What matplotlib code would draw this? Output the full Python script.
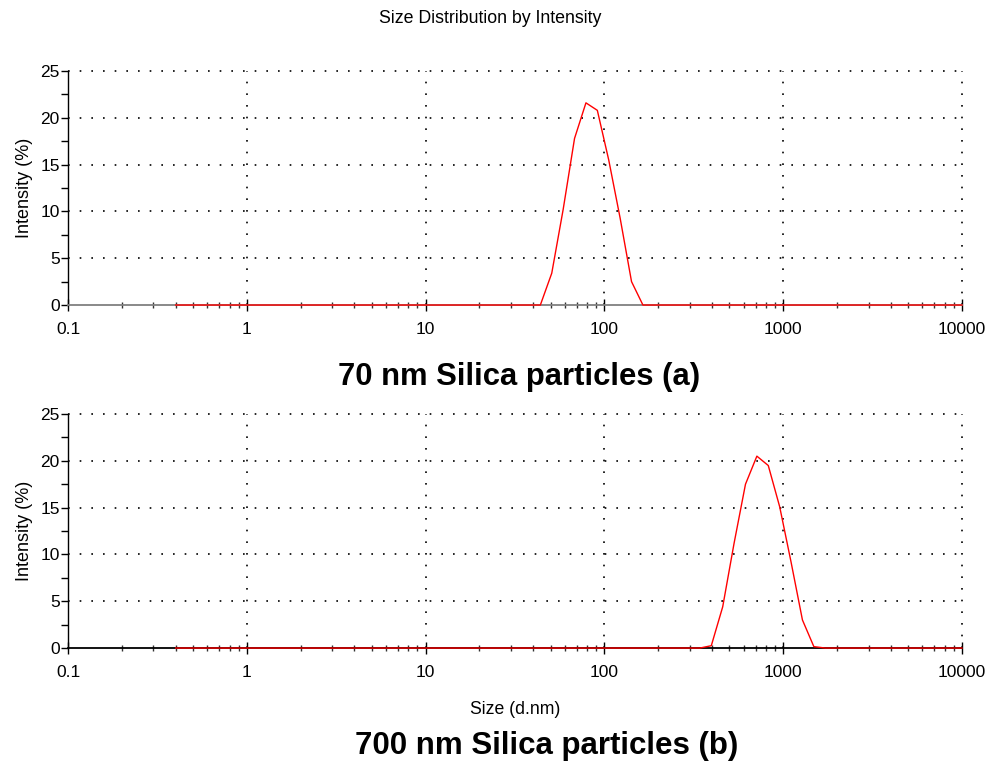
import numpy as np
import matplotlib
matplotlib.use("Agg")
import matplotlib.pyplot as plt
from matplotlib.ticker import LogLocator, FixedLocator, NullFormatter

plt.rcParams['font.family'] = ['Liberation Sans', 'DejaVu Sans']

sizes = [0.4, 0.4632, 0.5365, 0.6213, 0.7195, 0.8332, 0.9649, 1.117, 1.294, 1.499,
         1.736, 2.01, 2.328, 2.696, 3.122, 3.615, 4.187, 4.849, 5.615, 6.503,
         7.531, 8.721, 10.1, 11.7, 13.54, 15.69, 18.17, 21.04, 24.36, 28.21,
         32.67, 37.84, 43.82, 50.75, 58.77, 68.06, 78.82, 91.28, 105.7, 122.4,
         141.8, 164.2, 190.1, 220.2, 255.0, 295.3, 342.0, 396.1, 458.7, 531.2,
         615.1, 712.4, 825.0, 955.4, 1106, 1281, 1484, 1718, 1990, 2305,
         2669, 3091, 3580, 4145, 4801, 5560, 6439, 7456, 8635, 10000]

intensity_a = [0.0] * 70
peak_a = {43.82: 0.0, 50.75: 3.4, 58.77: 10.2, 68.06: 17.8, 78.82: 21.6,
          91.28: 20.8, 105.7: 15.5, 122.4: 9.3, 141.8: 2.5, 164.2: 0.0}
for s, v in peak_a.items():
    intensity_a[sizes.index(s)] = v

intensity_b = [0.0] * 70
peak_b = {342.0: 0.0, 396.1: 0.25, 458.7: 4.4, 531.2: 11.2, 615.1: 17.5,
          712.4: 20.5, 825.0: 19.5, 955.4: 15.1, 1106: 9.2, 1281: 3.0,
          1484: 0.15, 1718: 0.0}
for s, v in peak_b.items():
    intensity_b[sizes.index(s)] = v

yticks = [0, 5, 10, 15, 20, 25]
xticks = [0.1, 1, 10, 100, 1000, 10000]
xticklabels = ['0.1', '1', '10', '100', '1000', '10000']

fig = plt.figure(figsize=(9.89, 7.67), dpi=100)

def setup(ax, y, spine_color):
    ax.plot(sizes, y, color='#ff0000', lw=1.0, zorder=5, clip_on=False)
    ax.set_xscale('log')
    ax.set_xlim(0.1, 10000)
    ax.set_ylim(0, 25)
    for sp in ['top', 'right']:
        ax.spines[sp].set_visible(False)
    ax.spines['left'].set_color('black')
    ax.spines['left'].set_linewidth(1.0)
    ax.spines['bottom'].set_color(spine_color)
    ax.spines['bottom'].set_linewidth(1.3)
    ax.set_yticks(yticks)
    ax.yaxis.set_minor_locator(FixedLocator([2.5, 7.5, 12.5, 17.5, 22.5]))
    ax.set_xticks(xticks)
    ax.set_xticklabels(xticklabels)
    ax.xaxis.set_minor_locator(LogLocator(base=10, subs=np.arange(2, 10), numticks=20))
    ax.xaxis.set_minor_formatter(NullFormatter())
    ax.tick_params(axis='y', which='major', direction='out', length=5, width=1, labelsize=12.5, pad=1)
    ax.tick_params(axis='y', which='minor', direction='out', length=5, width=1)
    ax.tick_params(axis='x', which='major', direction='inout', length=8, width=1, labelsize=12.5, pad=8)
    ax.tick_params(axis='x', which='minor', direction='inout', length=5, width=1, color='#333333')
    ax.set_ylabel('Intensity (%)', fontsize=13, labelpad=5)
    for v in [1, 10, 100, 1000, 10000]:
        ax.axvline(v, color='black', lw=1.2, ls=(0, (1, 6)), zorder=1, clip_on=False)
    for v in [5, 10, 15, 20, 25]:
        ax.axhline(v, color='black', lw=1.2, ls=(0, (1, 6)), zorder=1, clip_on=False)

ax1 = fig.add_axes([0.0688, 0.6023, 0.9039, 0.3051])
setup(ax1, intensity_a, '#808080')
ax2 = fig.add_axes([0.0688, 0.1551, 0.9039, 0.3051])
setup(ax2, intensity_b, 'black')
ax2.set_xlabel('Size (d.nm)', fontsize=12.7, labelpad=15)

fig.text(0.4955, 0.9765, 'Size Distribution by Intensity', ha='center', va='center', fontsize=12.8)
fig.text(0.525, 0.5085, '70 nm Silica particles (a)', ha='center', va='center', fontsize=22.3, fontweight='bold')
fig.text(0.553, 0.027, '700 nm Silica particles (b)', ha='center', va='center', fontsize=22.5, fontweight='bold')

fig.savefig('out.png', dpi=100)
